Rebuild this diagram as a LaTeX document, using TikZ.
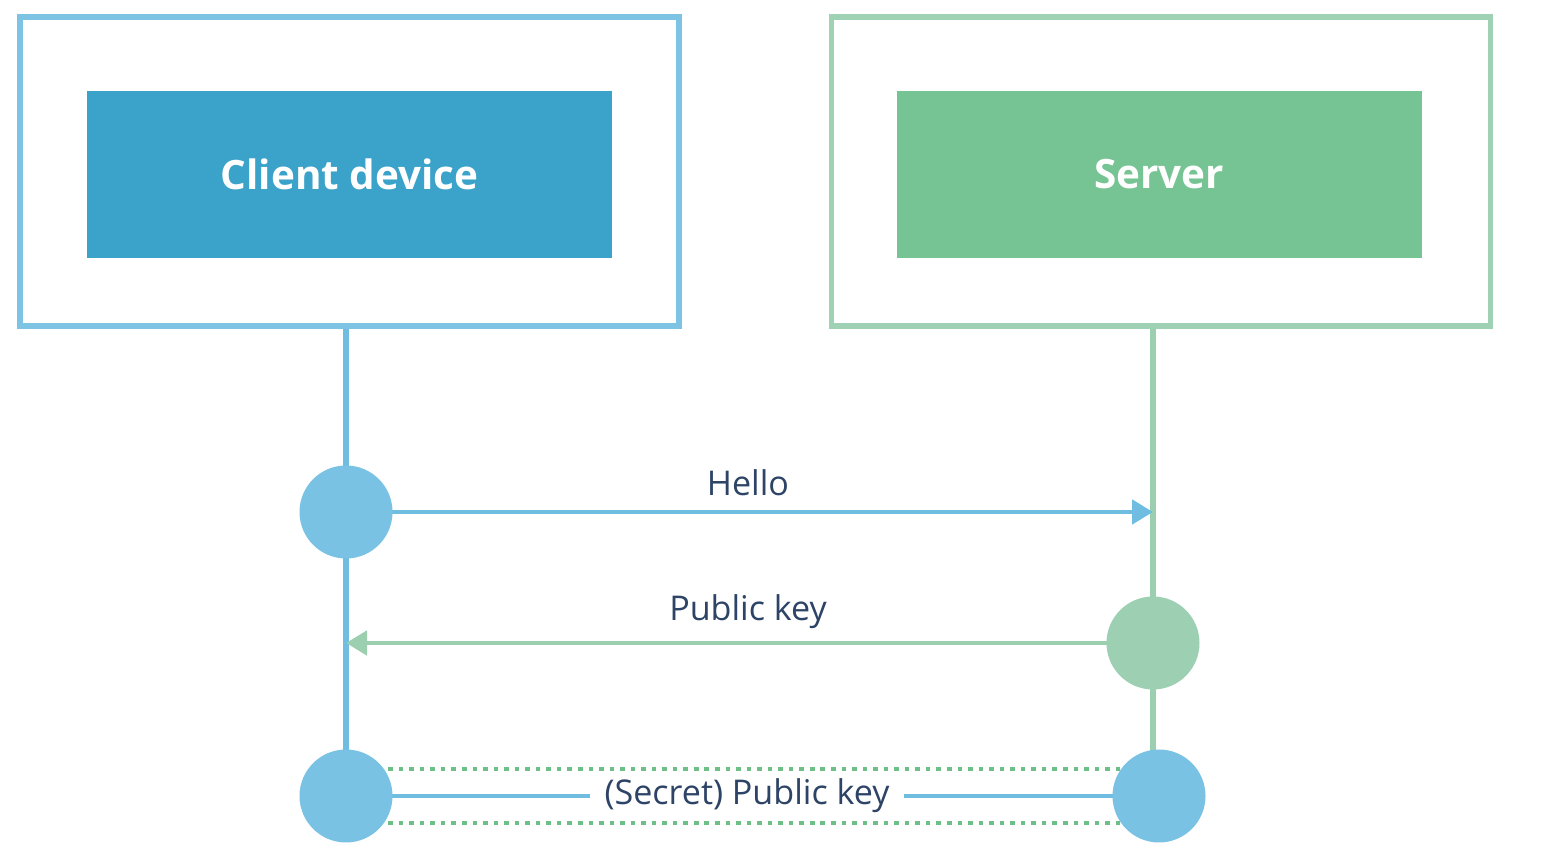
\documentclass[tikz,border=0pt]{standalone}
\usepackage{fontspec}
\setmainfont{Open Sans}
\usetikzlibrary{arrows.meta,positioning,calc}
\definecolor{clientframe}{HTML}{7DC4E4}
\definecolor{clientfill}{HTML}{3BA3CA}
\definecolor{serverframe}{HTML}{9FD2B5}
\definecolor{serverfill}{HTML}{76C493}
\definecolor{blueline}{HTML}{6FBDE0}
\definecolor{bluedot}{HTML}{7AC2E4}
\definecolor{greenline}{HTML}{9BCFB0}
\definecolor{greendot}{HTML}{9DD0B2}
\definecolor{dotgreen}{HTML}{6DBF86}
\definecolor{labeltext}{HTML}{2D4466}

\begin{document}
\begin{tikzpicture}[
    frame/.style={draw,line width=1.6pt,minimum width=6.59cm,minimum height=3.09cm},
    party/.style={minimum width=5.25cm,minimum height=1.67cm,text=white,font=\bfseries\fontsize{11.5}{13}\selectfont},
    dot/.style={circle,minimum size=0.93cm,inner sep=0pt},
    life/.style={line width=1.5pt},
    msg/.style={-{Triangle[length=0.21cm,width=0.24cm]},line width=1.4pt},
    lbl/.style={text=labeltext,font=\fontsize{9.7}{11}\selectfont},
    dots/.style={draw=dotgreen,line width=1.3pt,dash pattern=on 1.3pt off 1.7pt}
]
\useasboundingbox (0,0) rectangle (15.53,-8.67);

% boxes
\node[frame,draw=clientframe] (clientframe) at (3.495,-1.715) {};
\node[party,fill=clientfill] (client) at (3.495,-1.745) {\raisebox{-0.8mm}{Client device}};
\node[frame,draw=serverframe] (serverframe) at (11.61,-1.715) {};
\node[party,fill=serverfill] (server) at (11.59,-1.745) {\raisebox{-0.8mm}{Server}};

% message points
\coordinate (hello) at (3.46,-5.12);
\coordinate (pub) at (11.53,-6.43);
\coordinate (secL) at (3.46,-7.96);
\coordinate (secR) at (11.59,-7.96);
\coordinate (helloend) at (hello -| pub);
\coordinate (pubend) at (pub -| hello);

% lifelines
\draw[life,blueline] (clientframe.south -| hello) -- (secL);
\draw[life,greenline] (serverframe.south -| pub) -- (pub |- secR);

% secret channel
\node[lbl,fill=white,inner sep=0.14cm] (secret) at (7.47,-7.96) {(Secret) Public key};
\draw[line width=1.4pt,blueline] (secL) -- (secret);
\draw[line width=1.4pt,blueline] (secret) -- (secR);
\draw[dots] ($(secL)+(0,0.27)$) -- ($(secR)+(0,0.27)$);
\draw[dots] ($(secL)+(0,-0.27)$) -- ($(secR)+(0,-0.27)$);

% messages
\draw[msg,blueline] (hello) -- (helloend);
\draw[msg,greenline] (pub) -- (pubend);
\node[lbl] (hellolbl) at (7.48,-4.83) {Hello};
\node[lbl] (publbl) at (7.48,-6.12) {Public key};

% dots
\node[dot,fill=bluedot] (hellodot) at (hello) {};
\node[dot,fill=greendot] (pubdot) at (pub) {};
\node[dot,fill=bluedot] (secLdot) at (secL) {};
\node[dot,fill=bluedot] (secRdot) at (secR) {};
\end{tikzpicture}
\end{document}
